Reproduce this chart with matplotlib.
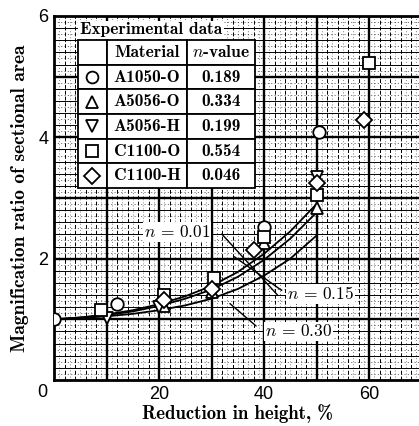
import numpy as np
import matplotlib
matplotlib.use("Agg")
import matplotlib.pyplot as plt

plt.rcParams["mathtext.fontset"] = "cm"

# theoretical curves, reduction in height (%) vs magnification ratio
curve_x = [0, 5, 10, 15, 20, 25, 30, 35, 40, 45, 50]
curve_n001 = [1.00, 1.03, 1.08, 1.15, 1.25, 1.38, 1.55, 1.78, 2.08, 2.45, 2.90]
curve_n015 = [1.00, 1.03, 1.07, 1.13, 1.22, 1.34, 1.49, 1.70, 1.98, 2.33, 2.76]
curve_n030 = [1.00, 1.02, 1.05, 1.09, 1.15, 1.23, 1.34, 1.50, 1.72, 2.00, 2.38]
curve_labels = [r"$n\,=\,0.01$", r"$n\,=\,0.15$", r"$n\,=\,0.30$"]

# experimental data
materials = ["A1050-O", "A5056-O", "A5056-H", "C1100-O", "C1100-H"]
n_values = ["0.189", "0.334", "0.199", "0.554", "0.046"]
markers = ["o", "^", "v", "s", "D"]

a1050o_x = [0, 12, 40, 50.5]
a1050o_y = [1.00, 1.25, 2.52, 4.09]
a5056o_x = [21, 30, 40, 50]
a5056o_y = [1.22, 1.45, 2.26, 2.84]
a5056h_x = [10, 20, 50]
a5056h_y = [1.02, 1.20, 3.35]
c1100o_x = [9, 21, 30.5, 40, 50, 60]
c1100o_y = [1.16, 1.40, 1.68, 2.36, 3.05, 5.23]
c1100h_x = [21, 30, 38, 50, 59]
c1100h_y = [1.32, 1.50, 2.15, 3.25, 4.29]

data_x = [a1050o_x, a5056o_x, a5056h_x, c1100o_x, c1100h_x]
data_y = [a1050o_y, a5056o_y, a5056h_y, c1100o_y, c1100h_y]

fig = plt.figure(figsize=(4.19, 4.26), dpi=100)
ax = fig.add_axes([54 / 419, 46 / 426, 367.5 / 419, 364 / 426])
ax.set_xlim(0, 70)
ax.set_ylim(0, 6)

# graph paper
ax.vlines(np.arange(1, 70, 2), 0, 6, colors="k", lw=0.4, linestyles=(0, (1.5, 4)), zorder=0)
ax.vlines([x for x in range(2, 70, 2) if x % 10], 0, 6, colors="k", lw=0.7, linestyles=(0, (4, 2)), zorder=0)
ax.vlines(np.arange(10, 70, 10), 0, 6, colors="k", lw=1.7, zorder=0)
ax.hlines(np.arange(0.1, 6, 0.2), 0, 70, colors="k", lw=0.4, linestyles=(0, (2, 4)), zorder=0)
ax.hlines([y / 10 for y in range(2, 60, 2) if y % 10], 0, 70, colors="k", lw=0.7, zorder=0)
ax.hlines(np.arange(1, 6, 1), 0, 70, colors="k", lw=1.7, zorder=0)

for cy in [curve_n001, curve_n015, curve_n030]:
    ax.plot(curve_x, cy, color="k", lw=1.3, zorder=2)

for xs, ys, m in zip(data_x, data_y, markers):
    ms = 8 if m == "D" else 9
    ax.plot(xs, ys, linestyle="none", marker=m, ms=ms, mfc="white", mec="k", mew=1.3, zorder=3)

# labels of the curves with leader lines
ax.annotate("", xy=(43, 1.36), xytext=(31.6, 2.44),
            arrowprops=dict(arrowstyle="-", lw=1.0, color="k"), zorder=4)
ax.annotate("", xy=(33.9, 2.06), xytext=(43.8, 1.45),
            arrowprops=dict(arrowstyle="-", lw=1.0, color="k"), zorder=4)
ax.annotate("", xy=(33.1, 1.29), xytext=(38.9, 0.86),
            arrowprops=dict(arrowstyle="-", lw=1.0, color="k"), zorder=4)
label_pos = [(23.4, 2.44), (50.8, 1.42), (46.5, 0.80)]
for (tx, ty), lab in zip(label_pos, curve_labels):
    ax.text(tx, ty, lab, fontsize=12.5, ha="center", va="center", zorder=5,
            bbox=dict(boxstyle="square,pad=0.05", fc="white", ec="none"))

# experimental data table
cell_text = [["", "Material", r"$n$-value"]] + [["", m, v] for m, v in zip(materials, n_values)]
tb_x, tb_y, tb_w, tb_h = 0.065, 0.527, 0.482, 0.407
tbl = ax.table(cellText=cell_text, colWidths=[29, 80, 68], cellLoc="center",
               bbox=[tb_x, tb_y, tb_w, tb_h], zorder=6)
tbl.auto_set_font_size(False)
tbl.set_fontsize(12.5)
for cell in tbl.get_celld().values():
    cell.set_linewidth(1.3)
    cell.set_facecolor("white")
    cell.get_text().set_fontfamily("cmb10")

row_h = tb_h / len(cell_text)
sym_x = tb_x + tb_w * 29 / 177 / 2
for i, m in enumerate(markers):
    sy = tb_y + tb_h - (i + 1.5) * row_h
    ax.plot(sym_x, sy, marker=m, ms=8 if m == "D" else 8.5, mfc="white", mec="k", mew=1.3,
            transform=ax.transAxes, clip_on=False, zorder=7)

ax.text(0.071, 0.962, "Experimental data", transform=ax.transAxes, fontfamily="cmb10",
        fontsize=12.5, va="center", ha="left", zorder=6,
        bbox=dict(boxstyle="square,pad=0.1", fc="white", ec="none"))

# axes
for s in ax.spines.values():
    s.set_linewidth(2)
ax.spines["right"].set_visible(False)
ax.set_xticks([20, 40, 60])
ax.set_yticks([2, 4, 6])
tick_font = ["Liberation Sans", "DejaVu Sans"]
ax.tick_params(length=0, labelsize=13, pad=4)
for t in ax.get_xticklabels() + ax.get_yticklabels():
    t.set_fontfamily(tick_font)
ax.text(-0.033, -0.033, "0", transform=ax.transAxes, ha="center", va="center",
        fontsize=13, fontfamily=tick_font)

ax.set_xlabel("Reduction in height, %", fontfamily="cmb10", fontsize=13.5, labelpad=1)
ax.set_ylabel("Magnification ratio of sectional area", fontfamily="cmb10", fontsize=14, labelpad=7)

fig.savefig("out.png", dpi=100)
